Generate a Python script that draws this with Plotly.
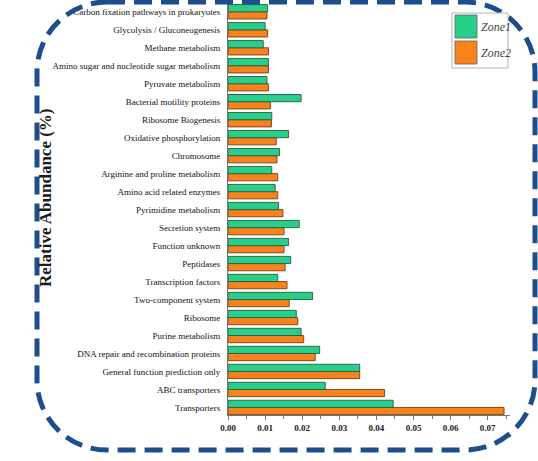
import plotly.graph_objects as go

# KEGG pathway categories, listed bottom to top
categories = [
    "Transporters",
    "ABC transporters",
    "General function prediction only",
    "DNA repair and recombination proteins",
    "Purine metabolism",
    "Ribosome",
    "Two-component system",
    "Transcription factors",
    "Peptidases",
    "Function unknown",
    "Secretion system",
    "Pyrimidine metabolism",
    "Amino acid related enzymes",
    "Arginine and proline metabolism",
    "Chromosome",
    "Oxidative phosphorylation",
    "Ribosome Biogenesis",
    "Bacterial motility proteins",
    "Pyruvate metabolism",
    "Amino sugar and nucleotide sugar metabolism",
    "Methane metabolism",
    "Glycolysis / Gluconeogenesis",
    "Carbon fixation pathways in prokaryotes",
]

zone1 = [0.0445, 0.0262, 0.0355, 0.0247, 0.0197, 0.0184, 0.0228, 0.0134, 0.0169,
         0.0163, 0.0192, 0.0136, 0.0127, 0.0118, 0.0139, 0.0163, 0.0118, 0.0197,
         0.0105, 0.0109, 0.0095, 0.0100, 0.0107]
zone2 = [0.0744, 0.0422, 0.0355, 0.0235, 0.0204, 0.0188, 0.0165, 0.0159, 0.0154,
         0.0151, 0.0151, 0.0148, 0.0134, 0.0134, 0.0132, 0.0130, 0.0117, 0.0114,
         0.0109, 0.0109, 0.0109, 0.0107, 0.0105]

x_ticks = [0.00, 0.01, 0.02, 0.03, 0.04, 0.05, 0.06, 0.07]
series_names = ["Zone1", "Zone2"]

GREEN = "#27cf88"
ORANGE = "#f8821c"
SERIF = "Liberation Serif"

W, H = 538, 461
ML, MR, MT, MB = 228, 28, 1, 46
PW, PH = W - ML - MR, H - MT - MB


def px(x, y):
    """Pixel position on the page -> paper coordinates."""
    return (x - ML) / PW, (H - MB - y) / PH


fig = go.Figure()
# plotly draws the later trace lower in a horizontal group, so add Zone2 first
fig.add_trace(go.Bar(
    y=categories, x=zone2, name=series_names[1], orientation="h",
    marker=dict(color=ORANGE, line=dict(color="#6e3f14", width=0.9)),
    showlegend=False,
))
fig.add_trace(go.Bar(
    y=categories, x=zone1, name=series_names[0], orientation="h",
    marker=dict(color=GREEN, line=dict(color="#275e42", width=0.9)),
    showlegend=False,
))

# Rounded dashed frame around the whole chart
x0, x1, y0, y1, r = 37, 535, 2, 450, 70
k = 0.5523 * r
pts = [
    ("M", [(x0 + r, y0)]),
    ("L", [(x1 - r, y0)]),
    ("C", [(x1 - r + k, y0), (x1, y0 + r - k), (x1, y0 + r)]),
    ("L", [(x1, y1 - r)]),
    ("C", [(x1, y1 - r + k), (x1 - r + k, y1), (x1 - r, y1)]),
    ("L", [(x0 + r, y1)]),
    ("C", [(x0 + r - k, y1), (x0, y1 - r + k), (x0, y1 - r)]),
    ("L", [(x0, y0 + r)]),
    ("C", [(x0, y0 + r - k), (x0 + r - k, y0), (x0 + r, y0)]),
]
path = ""
for cmd, ps in pts:
    path += cmd + " ".join("%.5f,%.5f" % px(a, b) for a, b in ps) + " "
path += "Z"

shapes = [dict(type="path", path=path, xref="paper", yref="paper",
               line=dict(color="#1d4d8c", width=5, dash="18px,9px"), layer="above")]

# Legend box with two swatches
lx0, ly0 = px(452, 13)
lx1, ly1 = px(508, 68)
shapes.append(dict(type="rect", xref="paper", yref="paper", x0=lx0, x1=lx1, y0=ly1, y1=ly0,
                    line=dict(color="#b5b5b5", width=1), fillcolor="white"))
annotations = []
for i, (name, col) in enumerate(zip(series_names, [GREEN, ORANGE])):
    top = 15 + i * 26
    sx0, sy0 = px(455, top)
    sx1, sy1 = px(477, top + 23)
    shapes.append(dict(type="rect", xref="paper", yref="paper", x0=sx0, x1=sx1, y0=sy1, y1=sy0,
                       fillcolor=col, line=dict(color="#666666", width=0.8)))
    tx, ty = px(479, top + 11.5)
    annotations.append(dict(text="<i>%s</i>" % name, x=tx, y=ty, xref="paper", yref="paper",
                            xanchor="left", yanchor="middle", showarrow=False,
                            font=dict(family=SERIF, size=12, color="#444444")))

# Rotated y-axis title
tx, ty = px(45, 198)
annotations.append(dict(text="<b>Relative Abundance (%)</b>", x=tx, y=ty, xref="paper", yref="paper",
                        textangle=-90, showarrow=False, xanchor="center", yanchor="middle",
                        font=dict(family=SERIF, size=17, color="#1a1a1a")))

fig.update_layout(
    width=W, height=H,
    margin=dict(l=ML, r=MR, t=MT, b=MB, pad=0),
    paper_bgcolor="white", plot_bgcolor="white",
    barmode="group", bargap=0.2, bargroupgap=0.0,
    shapes=shapes, annotations=annotations,
    showlegend=False,
    xaxis=dict(
        range=[0, 0.076], tickvals=x_ticks,
        ticktext=["<b>%.2f</b>" % v for v in x_ticks],
        ticks="outside", ticklen=4, tickcolor="#777777",
        minor=dict(dtick=0.005, ticks="outside", ticklen=3, tickcolor="#777777"),
        showline=True, linecolor="#777777", linewidth=1,
        showgrid=False, zeroline=False,
        tickfont=dict(family=SERIF, size=9, color="#1a1a1a"),
    ),
    yaxis=dict(
        range=[-0.42, 22.6], showline=True, linecolor="#777777", linewidth=1,
        showgrid=False, zeroline=False, ticks="", ticklabelstandoff=5,
        tickfont=dict(family=SERIF, size=9, color="#111111"),
    ),
)

fig.write_html("out.html")
